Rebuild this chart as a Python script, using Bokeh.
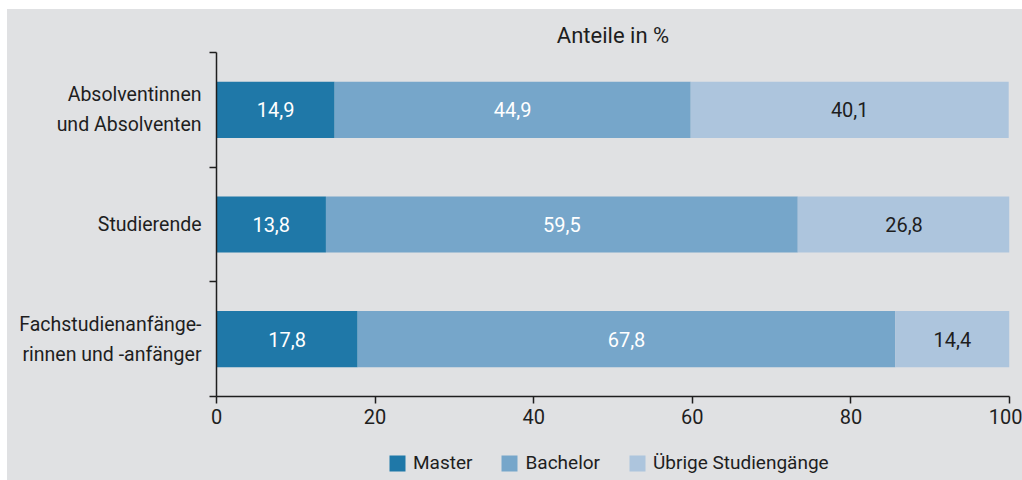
from bokeh.plotting import figure
from bokeh.layouts import column
from bokeh.models import ColumnDataSource, FixedTicker, Legend, LegendItem, Range1d
from bokeh.core.properties import value
from bokeh.embed import file_html
from bokeh.resources import INLINE

categories = ["Absolventinnen\nund Absolventen", "Studierende", "Fachstudienanfänge-\nrinnen und -anfänger"]
master = [14.9, 13.8, 17.8]
bachelor = [44.9, 59.5, 67.8]
uebrige = [40.1, 26.8, 14.4]
series_names = ["Master", "Bachelor", "Übrige Studiengänge"]
x_ticks = [0, 20, 40, 60, 80, 100]

FONT = "Roboto"
BG = "#e0e1e3"
TXT = "#1e1e1e"
colors = ["#1f78a8", "#76a6ca", "#adc5dd"]
label_colors = ["white", "white", TXT]

n = len(categories)
ypos = [n - 0.5 - i for i in range(n)]

p = figure(width=1015, height=431, output_backend="svg", toolbar_location=None,
           x_range=Range1d(0, 100), y_range=Range1d(0, n),
           background_fill_color=BG, border_fill_color=BG,
           min_border_left=209, min_border_right=13, min_border_top=43, min_border_bottom=44)
p.outline_line_color = None
p.xgrid.visible = False
p.ygrid.visible = False

p.title.text = "Anteile in %"
p.title.align = "center"
p.title.text_font = FONT
p.title.text_font_size = "22px"
p.title.text_font_style = "normal"
p.title.text_color = TXT
p.title.standoff = 10

series = [master, bachelor, uebrige]
left = [0.0] * n
for k, vals in enumerate(series):
    right = [l + v for l, v in zip(left, vals)]
    src = ColumnDataSource(dict(y=ypos, left=left, right=right,
                                mid=[(l + r) / 2 for l, r in zip(left, right)],
                                lab=[f"{v:.1f}".replace(".", ",") for v in vals]))
    p.hbar(y="y", left="left", right="right", height=0.49, source=src,
           fill_color=colors[k], line_color=None)
    p.text(x="mid", y="y", text="lab", source=src, text_align="center",
           text_baseline="middle", text_font=value(FONT), text_font_size="20px",
           text_color=label_colors[k])
    left = right

xa = p.xaxis[0]
xa.ticker = FixedTicker(ticks=x_ticks)
xa.axis_line_color = TXT
xa.axis_line_width = 1.5
xa.major_tick_line_color = TXT
xa.major_tick_line_width = 1.5
xa.major_tick_in = 0
xa.major_tick_out = 7
xa.minor_tick_line_color = None
xa.major_label_standoff = 5
xa.major_label_text_font = FONT
xa.major_label_text_font_size = "20px"
xa.major_label_text_color = TXT

ya = p.yaxis[0]
ya.ticker = FixedTicker(ticks=ypos, minor_ticks=list(range(n + 1)))
ya.major_label_overrides = {y: c for y, c in zip(ypos, categories)}
ya.axis_line_color = TXT
ya.axis_line_width = 1.5
ya.major_tick_line_color = None
ya.minor_tick_line_color = TXT
ya.minor_tick_line_width = 1.5
ya.minor_tick_in = 0
ya.minor_tick_out = 7
ya.major_label_standoff = 8
ya.major_label_text_font = FONT
ya.major_label_text_font_size = "19.5px"
ya.major_label_text_color = TXT
ya.major_label_text_align = "right"
ya.major_label_text_line_height = 1.3

# legend strip below the chart
lf = figure(width=1015, height=40, output_backend="svg", toolbar_location=None,
            x_range=Range1d(0, 1), y_range=Range1d(0, 1),
            x_axis_location=None, y_axis_location=None,
            background_fill_color=BG, border_fill_color=BG,
            min_border_left=209, min_border_right=13, min_border_top=0, min_border_bottom=0)
lf.outline_line_color = None
lf.xgrid.visible = False
lf.ygrid.visible = False
items = []
for k, name in enumerate(series_names):
    # zero-size placeholder renderer, only used for the legend swatch
    r = lf.hbar(y=[0.5], left=[0], right=[0], height=0, fill_color=colors[k], line_color=None)
    items.append(LegendItem(label=name, renderers=[r]))
legend = Legend(items=items, orientation="horizontal", location=(171, 6),
                glyph_width=20, glyph_height=20, label_standoff=6, spacing=27,
                padding=0, margin=0, border_line_color=None,
                background_fill_alpha=0, label_text_font=FONT,
                label_text_font_size="19px", label_text_color=TXT)
lf.add_layout(legend, "center")

layout = column(p, lf, spacing=0, margin=(9, 0, 0, 7), styles={"background-color": BG})
open("out.html", "w").write(file_html(layout, INLINE))
